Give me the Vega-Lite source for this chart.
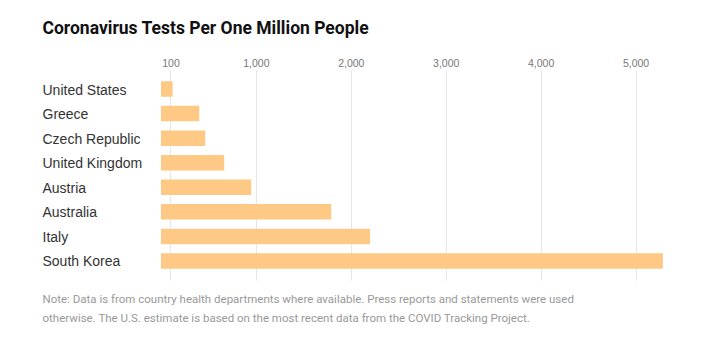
{
  "$schema": "https://vega.github.io/schema/vega-lite/v6.json",
  "autosize": {"type": "none"},
  "width": 503,
  "height": 210,
  "padding": {"left": 161, "top": 70, "right": 56, "bottom": 69},
  "background": "white",
  "data": {"values": [
    {"country": "United States", "tests": 122},
    {"country": "Greece", "tests": 403},
    {"country": "Czech Republic", "tests": 466},
    {"country": "United Kingdom", "tests": 666},
    {"country": "Austria", "tests": 950},
    {"country": "Australia", "tests": 1793},
    {"country": "Italy", "tests": 2203},
    {"country": "South Korea", "tests": 5288}
  ]},
  "mark": {"type": "bar", "color": "#fdc984"},
  "encoding": {
    "y": {
      "field": "country", "type": "nominal", "sort": null,
      "scale": {"paddingInner": 0.37, "paddingOuter": 0.46},
      "axis": {
        "orient": "left", "ticks": false, "tickSize": 0, "domain": false,
        "labelAlign": "left", "labelPadding": 119, "labelFontSize": 14, "labelOffset": 1.5,
        "labelColor": "#333333", "labelFont": "Liberation Sans",
        "title": ["Note: Data is from country health departments where available. Press reports and statements were used", "otherwise. The U.S. estimate is based on the most recent data from the COVID Tracking Project."],
        "titleAngle": 0, "titleAlign": "left", "titleBaseline": "alphabetic",
        "titleX": -119, "titleY": 232, "titleFontSize": 11.5, "titleFontWeight": "normal",
        "titleColor": "#999999", "titleLineHeight": 19, "titleFont": "Roboto"
      }
    },
    "x": {
      "field": "tests", "type": "quantitative",
      "scale": {"domain": [0, 5300], "nice": false},
      "axis": {
        "orient": "top", "values": [100, 1000, 2000, 3000, 4000, 5000], "format": ",.0f",
        "grid": true, "gridColor": "#e6e6e6", "ticks": false, "tickSize": 0, "domain": false,
        "labelPadding": 2, "labelFontSize": 10.5, "labelColor": "#777777", "labelFont": "Liberation Sans",
        "title": "Coronavirus Tests Per One Million People",
        "titleX": -119, "titleY": -37, "titleAlign": "left", "titleBaseline": "alphabetic",
        "titleFontSize": 17.5, "titleFontWeight": "bold", "titleFont": "Roboto", "titleColor": "#111111"
      }
    }
  },
  "config": {"view": {"stroke": null}}
}
